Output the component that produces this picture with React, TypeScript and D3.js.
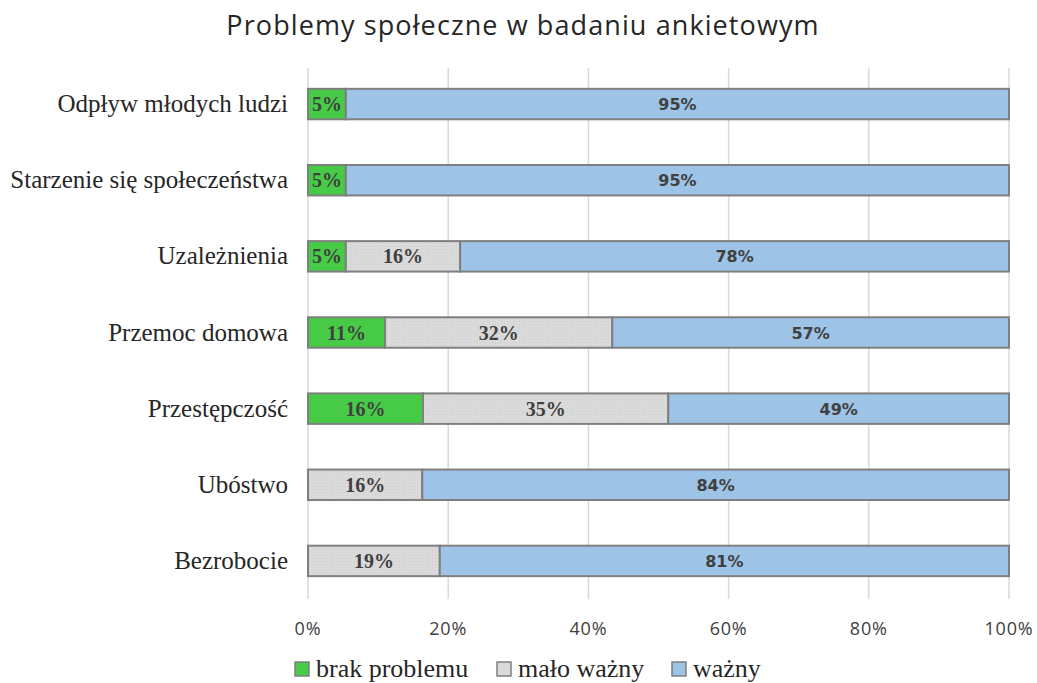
import * as d3 from "d3";

const categories = [
  "Odpływ młodych ludzi",
  "Starzenie się społeczeństwa",
  "Uzależnienia",
  "Przemoc domowa",
  "Przestępczość",
  "Ubóstwo",
  "Bezrobocie",
];
const brakProblemu = [5.4, 5.4, 5.4, 11.0, 16.4, 0, 0];
const maloWazny = [0, 0, 16.3, 32.4, 35.0, 16.3, 18.8];
const wazny = [94.6, 94.6, 78.3, 56.6, 48.6, 83.7, 81.2];
const xTicks = [0, 20, 40, 60, 80, 100];

const seriesNames = ["brak problemu", "mało ważny", "ważny"];
const colors = ["#47cb47", "#d9d9d9", "#9dc3e6"];

const W = 1037, H = 683;
const left = 308, right = 1009, top = 66, bottom = 599;

export default function App() {
  const rows = categories.map((c, i) => ({
    cat: c,
    s0: brakProblemu[i],
    s1: maloWazny[i],
    s2: wazny[i],
  }));
  const stack = d3.stack<any>().keys(["s0", "s1", "s2"])(rows);

  const x = d3.scaleLinear().domain([0, 100]).range([left, right]);
  const y = d3.scaleBand().domain(categories).range([top, bottom]).paddingInner(0.6).paddingOuter(0.3);
  const fmt = (v: number) => `${Math.round(v)}%`;
  const legendX = [295, 497, 672];

  return (
    <svg width={W} height={H} style={{ position: "absolute", left: 0, top: 0, background: "#fff" }}>
      <defs>
        <pattern id="dots" width="3" height="3" patternUnits="userSpaceOnUse">
          <rect width="3" height="3" fill="#dadada" />
          <rect width="1" height="1" fill="#cfcfcf" />
        </pattern>
      </defs>
      <text x={523} y={35} textAnchor="middle" fontFamily="'Open Sans', sans-serif" fontSize={27}
        letterSpacing={1.1} fill="#262626">
        Problemy społeczne w badaniu ankietowym
      </text>
      {xTicks.map((t) => (
        <g key={t}>
          <line x1={x(t)} x2={x(t)} y1={top + 2} y2={bottom} stroke="#d9d9d9" strokeWidth={1.5} />
          <text x={x(t)} y={635} textAnchor="middle" fontFamily="'Open Sans', sans-serif" fontSize={18}
            letterSpacing={0.8} fill="#404040">
            {t}%
          </text>
        </g>
      ))}
      {categories.map((c) => (
        <text key={c} x={288} y={(y(c) as number) + y.bandwidth() / 2 + 8} textAnchor="end"
          fontFamily="'Liberation Serif', serif" fontSize={25} fill="#262626">
          {c}
        </text>
      ))}
      {stack.map((layer, si) => (
        <g key={si}>
          {layer.map((d: any, i) => {
            const w = x(d[1]) - x(d[0]);
            if (w <= 0) return null;
            const cy = (y(categories[i]) as number) + y.bandwidth() / 2;
            return (
              <g key={i}>
                <rect x={x(d[0])} y={y(categories[i])} width={w} height={y.bandwidth()}
                  fill={si === 1 ? "url(#dots)" : colors[si]} stroke="#7f7f7f" strokeWidth={2} />
                <text x={x(d[0]) + w / 2} y={cy + (si === 2 ? 6 : 7)} textAnchor="middle"
                  fontFamily={si === 2 ? "'DejaVu Sans', sans-serif" : "'Liberation Serif', serif"}
                  fontWeight="bold" fontSize={si === 2 ? 16 : 20} fill="#404040">
                  {fmt(d[1] - d[0])}
                </text>
              </g>
            );
          })}
        </g>
      ))}
      {seriesNames.map((n, i) => (
        <g key={n}>
          <rect x={legendX[i]} y={662} width={14} height={14} fill={colors[i]} stroke="#7f7f7f" strokeWidth={1.5} />
          <text x={legendX[i] + 21} y={677} fontFamily="'Liberation Serif', serif" fontSize={26} fill="#262626">{n}</text>
        </g>
      ))}
    </svg>
  );
}
